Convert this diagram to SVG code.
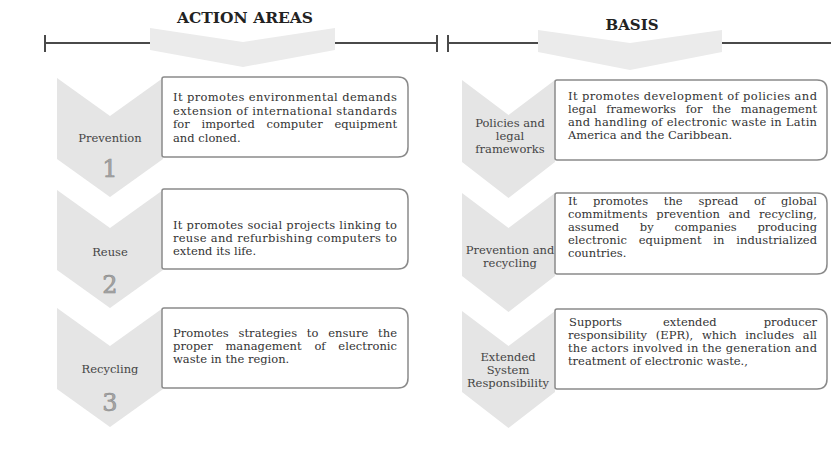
<svg xmlns="http://www.w3.org/2000/svg" width="831" height="466" viewBox="0 0 831 466">
<style>
.chev{fill:#e5e5e5}
.hchev{fill:#ebebeb}
.box{fill:#fff;stroke:#8a8a8a;stroke-width:1.5}
.rule{stroke:#4a4a4a;stroke-width:2;fill:none}
.body{font-family:'DejaVu Serif','Liberation Serif',serif;font-size:11.5px;fill:#333}
.lbl{font-family:'DejaVu Serif','Liberation Serif',serif;font-size:11.5px;fill:#444;text-anchor:middle}
.num{font-family:'DejaVu Serif','Liberation Serif',serif;font-size:24px;fill:#a6a6a6;stroke:#8c8c8c;stroke-width:0.6;text-anchor:middle}
.hdr{font-family:'DejaVu Serif','Liberation Serif',serif;font-weight:bold;font-size:15px;fill:#222;text-anchor:middle}
</style>
<rect width="831" height="466" fill="#fff"/>
<g id="connectors">
<path class="rule" d="M45,43 H151 M334,43 H437 M45,35 V52 M437,35 V52 M448,35 V52 M448,43 H539 M721,43 H831"/>
</g>
<g id="header-action-areas">
<polygon class="hchev" points="150,28 243,42 335,28 335,50 243,67 150,50"/>
<text class="hdr" x="245" y="23" textLength="136" lengthAdjust="spacingAndGlyphs">ACTION AREAS</text>
</g>
<g id="header-basis">
<polygon class="hchev" points="538,30 630,43 722,30 722,52 630,70 538,52"/>
<text class="hdr" x="632" y="30" textLength="53" lengthAdjust="spacingAndGlyphs">BASIS</text>
</g>
<g id="action-prevention">
<polygon class="chev" points="57,78 110,116 163,78 163,159 110,197 57,159"/>
<path class="box" d="M162,79 Q162,77 164,77 H398 Q408,77 408,87 V147 Q408,157 398,157 H164 Q162,157 162,155 Z"/>
<text class="lbl" x="110" y="142">Prevention</text>
<text class="num" x="110" y="177">1</text>
<text class="body" x="173" y="101" textLength="224" lengthAdjust="spacing">It promotes environmental demands</text>
<text class="body" x="173" y="114.5" textLength="224" lengthAdjust="spacing">extension of international standards</text>
<text class="body" x="173" y="128" textLength="224" lengthAdjust="spacing" word-spacing="8">for imported computer equipment</text>
<text class="body" x="173" y="141.5">and cloned.</text>
</g>
<g id="action-reuse">
<polygon class="chev" points="57,190 110,228 163,190 163,270 110,308 57,270"/>
<path class="box" d="M162,191 Q162,189 164,189 H398 Q408,189 408,199 V259 Q408,269 398,269 H164 Q162,269 162,267 Z"/>
<text class="lbl" x="110" y="256">Reuse</text>
<text class="num" x="110" y="293">2</text>
<text class="body" x="173" y="229" textLength="224" lengthAdjust="spacing">It promotes social projects linking to</text>
<text class="body" x="173" y="242" textLength="224" lengthAdjust="spacing">reuse and refurbishing computers to</text>
<text class="body" x="173" y="255">extend its life.</text>
</g>
<g id="action-recycling">
<polygon class="chev" points="57,308 110,346 163,308 163,389 110,427 57,389"/>
<path class="box" d="M162,310 Q162,308 164,308 H398 Q408,308 408,318 V378 Q408,388 398,388 H164 Q162,388 162,386 Z"/>
<text class="lbl" x="110" y="373">Recycling</text>
<text class="num" x="110" y="411">3</text>
<text class="body" x="173" y="337" textLength="224" lengthAdjust="spacing" word-spacing="6">Promotes strategies to ensure the</text>
<text class="body" x="173" y="350" textLength="224" lengthAdjust="spacing" word-spacing="9">proper management of electronic</text>
<text class="body" x="173" y="363">waste in the region.</text>
</g>
<g id="basis-policies">
<polygon class="chev" points="462,80 508.5,115 555,80 555,162 508.5,198 462,162"/>
<path class="box" d="M555,82 Q555,80 557,80 H817 Q827,80 827,90 V150 Q827,160 817,160 H557 Q555,160 555,158 Z"/>
<text class="lbl" x="510" y="127">Policies and</text>
<text class="lbl" x="510" y="140">legal</text>
<text class="lbl" x="510" y="153">frameworks</text>
<text class="body" x="568" y="100" textLength="249" lengthAdjust="spacing">It promotes development of policies and</text>
<text class="body" x="568" y="113" textLength="249" lengthAdjust="spacing" word-spacing="6">legal frameworks for the management</text>
<text class="body" x="568" y="126" textLength="249" lengthAdjust="spacing">and handling of electronic waste in Latin</text>
<text class="body" x="568" y="139">America and the Caribbean.</text>
</g>
<g id="basis-prevention-recycling">
<polygon class="chev" points="462,193 508.5,228 555,193 555,276 508.5,312 462,276"/>
<path class="box" d="M555,195 Q555,193 557,193 H817 Q827,193 827,203 V264 Q827,274 817,274 H557 Q555,274 555,272 Z"/>
<text class="body" x="568" y="205" textLength="249" lengthAdjust="spacing" word-spacing="12">It promotes the spread of global</text>
<text class="body" x="568" y="218" textLength="249" lengthAdjust="spacing" word-spacing="5">commitments prevention and recycling,</text>
<text class="body" x="568" y="231" textLength="249" lengthAdjust="spacing" word-spacing="17">assumed by companies producing</text>
<text class="body" x="568" y="244" textLength="249" lengthAdjust="spacing" word-spacing="8">electronic equipment in industrialized</text>
<text class="body" x="568" y="257">countries.</text>
<text class="lbl" x="510" y="254">Prevention and</text>
<text class="lbl" x="510" y="267">recycling</text>
</g>
<g id="basis-extended-responsibility">
<polygon class="chev" points="462,311 508.5,346 555,311 555,392 508.5,428 462,392"/>
<path class="box" d="M555,311 Q555,309 557,309 H817 Q827,309 827,319 V379 Q827,389 817,389 H557 Q555,389 555,387 Z"/>
<text class="body" y="326"><tspan x="569">Supports</tspan><tspan x="663">extended</tspan><tspan x="817" text-anchor="end">producer</tspan></text>
<text class="body" x="568" y="339" textLength="249" lengthAdjust="spacing" word-spacing="5">responsibility (EPR), which includes all</text>
<text class="body" x="568" y="352" textLength="249" lengthAdjust="spacing">the actors involved in the generation and</text>
<text class="body" x="568" y="365">treatment of electronic waste.,</text>
<text class="lbl" x="508" y="361">Extended</text>
<text class="lbl" x="508" y="374">System</text>
<text class="lbl" x="508" y="387">Responsibility</text>
</g>
</svg>
